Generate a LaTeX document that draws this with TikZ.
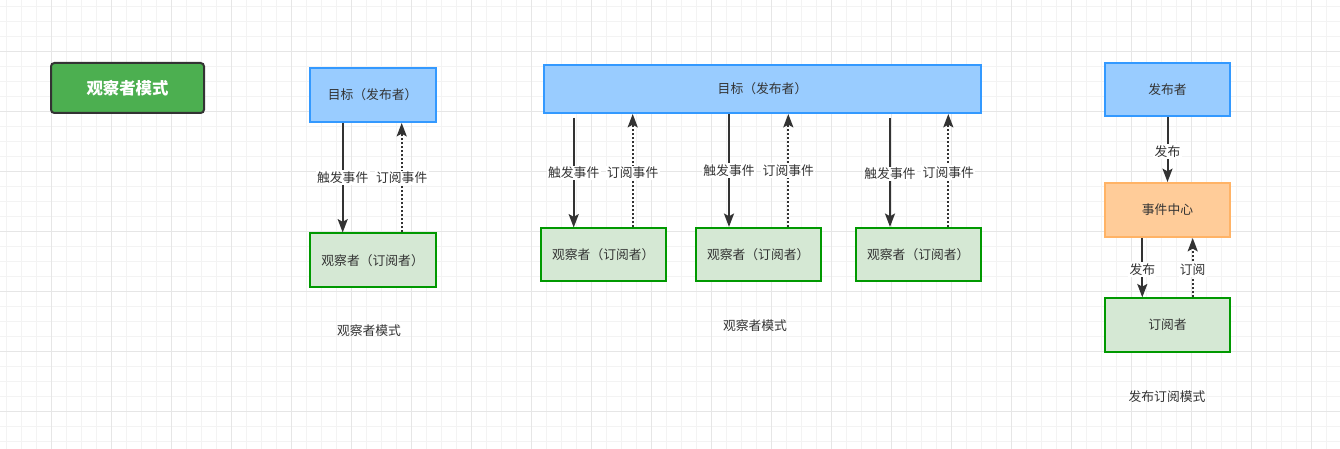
\documentclass[tikz,border=0pt]{standalone}
\usepackage{fontspec}
\setmainfont{Noto Sans CJK SC}
\usetikzlibrary{arrows.meta}
\definecolor{gridminor}{HTML}{F3F3F3}
\definecolor{gridmajor}{HTML}{E6E6E6}
\definecolor{txt}{HTML}{333333}
\definecolor{bluefill}{HTML}{99CCFF}
\definecolor{blueline}{HTML}{3399FF}
\definecolor{greenfill}{HTML}{D5E8D4}
\definecolor{greenline}{HTML}{009900}
\definecolor{orangefill}{HTML}{FFCC99}
\definecolor{orangeline}{HTML}{FFB366}
\definecolor{titlefill}{HTML}{4CAF50}
\begin{document}
\begin{tikzpicture}[x=0.75pt,y=-0.75pt,
  box/.style={draw, line width=1.5pt, text=txt, font=\fontsize{9.6}{11}\selectfont, inner sep=0pt},
  bluebox/.style={box, fill=bluefill, draw=blueline},
  greenbox/.style={box, fill=greenfill, draw=greenline},
  orangebox/.style={box, fill=orangefill, draw=orangeline},
  arr/.style={draw=txt, line width=1.5pt, -{Stealth[length=10pt,width=7.5pt,inset=2pt]}},
  dotarr/.style={arr, dash pattern=on 1.5pt off 1.5pt},
  lbl/.style={fill=white, text=txt, font=\fontsize{9.6}{11}\selectfont, inner sep=1pt},
  caption/.style={text=txt, font=\fontsize{9.6}{11}\selectfont, inner sep=0pt}]
\useasboundingbox (0,0) rectangle (1340,449);
\fill[white] (0,0) rectangle (1340,449);
% grid
\foreach \i in {0,...,89} {\draw[gridminor, line width=0.75pt] (6.67+15*\i,0) -- (6.67+15*\i,449);}
\foreach \i in {0,...,29} {\draw[gridminor, line width=0.75pt] (0,6.67+15*\i) -- (1340,6.67+15*\i);}
\foreach \i in {0,...,21} {\draw[gridmajor, line width=0.75pt] (51.67+60*\i,0) -- (51.67+60*\i,449);}
\foreach \i in {0,...,6} {\draw[gridmajor, line width=0.75pt] (0,51.67+60*\i) -- (1340,51.67+60*\i);}

% title
\node[draw=txt, line width=1.5pt, fill=titlefill, rounded corners=2.5pt, text=white,
  font=\fontsize{12.3}{14}\selectfont\bfseries, minimum width=114.75pt, minimum height=37.5pt]
  (title) at (127.5,88) {观察者模式};

% left: observer pattern
\node[bluebox, minimum width=94.5pt, minimum height=40.5pt] (t1) at (372.6,95) {目标（发布者）};
\node[greenbox, minimum width=94.5pt, minimum height=40.5pt] (o1) at (372.6,260.5) {观察者（订阅者）};
\coordinate (xa1) at (342.7,0);
\coordinate (xb1) at (401.7,0);
\draw[arr] (t1.south -| xa1) -- (o1.north -| xa1) node[lbl, midway] {触发事件};
\draw[dotarr] (o1.north -| xb1) -- (t1.south -| xb1) node[lbl, midway] {订阅事件};
\node[caption] (c1) at (369,331) {观察者模式};

% middle
\node[bluebox, minimum width=327.75pt, minimum height=36pt] (t2) at (762.5,89) {目标（发布者）};
\node[greenbox, minimum width=93.75pt, minimum height=39.75pt] (m1) at (603.3,255) {观察者（订阅者）};
\node[greenbox, minimum width=93.75pt, minimum height=39.75pt] (m2) at (758.2,254.4) {观察者（订阅者）};
\node[greenbox, minimum width=93.75pt, minimum height=39.75pt] (m3) at (918.3,254.4) {观察者（订阅者）};
\coordinate (xa2) at (573.7,0);
\coordinate (xb2) at (632.7,0);
\coordinate (xa3) at (729,0);
\coordinate (xb3) at (788.3,0);
\coordinate (xa4) at (890,0);
\coordinate (xb4) at (948.3,0);
\draw[arr, shorten <=3pt] (t2.south -| xa2) -- (m1.north -| xa2) node[lbl, pos=0.52] {触发事件};
\draw[dotarr] (m1.north -| xb2) -- (t2.south -| xb2) node[lbl, pos=0.48] {订阅事件};
\draw[arr] (t2.south -| xa3) -- (m2.north -| xa3) node[lbl, midway] {触发事件};
\draw[dotarr] (m2.north -| xb3) -- (t2.south -| xb3) node[lbl, midway] {订阅事件};
\draw[arr, shorten <=3pt] (t2.south -| xa4) -- (m3.north -| xa4) node[lbl, pos=0.53] {触发事件};
\draw[dotarr] (m3.north -| xb4) -- (t2.south -| xb4) node[lbl, pos=0.48] {订阅事件};
\node[caption] (c2) at (755,326) {观察者模式};

% right: publish-subscribe
\node[bluebox, minimum width=93.75pt, minimum height=39.75pt] (p) at (1167.5,89.5) {发布者};
\node[orangebox, minimum width=93.75pt, minimum height=40.5pt] (e) at (1167.5,210) {事件中心};
\node[greenbox, minimum width=93.75pt, minimum height=40pt] (s) at (1167.5,325) {订阅者};
\coordinate (xa5) at (1142.3,0);
\coordinate (xb5) at (1192.7,0);
\draw[arr] (p) -- (e) node[lbl, pos=0.53] {发布};
\draw[arr] (e.south -| xa5) -- (s.north -| xa5) node[lbl, pos=0.53] {发布};
\draw[dotarr] (s.north -| xb5) -- (e.south -| xb5) node[lbl, pos=0.47] {订阅};
\node[caption] (c3) at (1167,397) {发布订阅模式};
\end{tikzpicture}
\end{document}
